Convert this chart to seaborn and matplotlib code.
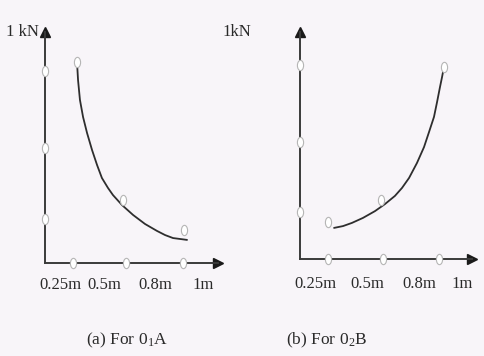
import numpy as np
import pandas as pd
import matplotlib
matplotlib.use("Agg")
import matplotlib.pyplot as plt
import matplotlib.path as mpath
from matplotlib.transforms import Affine2D
import seaborn as sns

# schematic data, axis units are fractions of the arrow length
# (a) curve for 0_1A (falls with distance)
a_curve_x = [0.185, 0.191, 0.202, 0.220, 0.243, 0.272, 0.301, 0.329, 0.364, 0.393,
             0.445, 0.509, 0.578, 0.647, 0.694, 0.740, 0.821]
a_curve_y = [0.870, 0.792, 0.706, 0.632, 0.563, 0.489, 0.424, 0.368, 0.325, 0.294,
             0.251, 0.208, 0.169, 0.139, 0.121, 0.108, 0.100]
a_pts_x = [0.185, 0.451, 0.803]
a_pts_y = [0.870, 0.273, 0.143]
a_xticks = [0.16, 0.47, 0.80]
a_yticks = [0.19, 0.50, 0.83]
a_label_x = [0.087, 0.34, 0.636, 0.913]

# (b) curve for 0_2B (rises with distance)
b_curve_x = [0.198, 0.250, 0.302, 0.366, 0.436, 0.494, 0.552, 0.593, 0.634, 0.680,
             0.721, 0.750, 0.779, 0.797, 0.814, 0.826, 0.837]
b_curve_y = [0.137, 0.145, 0.159, 0.181, 0.211, 0.242, 0.278, 0.313, 0.357, 0.423,
             0.493, 0.559, 0.626, 0.692, 0.758, 0.802, 0.846]
b_pts_x = [0.163, 0.471, 0.837]
b_pts_y = [0.163, 0.260, 0.846]
b_xticks = [0.163, 0.483, 0.808]
b_yticks = [0.207, 0.515, 0.855]
b_label_x = [0.087, 0.39, 0.692, 0.942]

dist_labels = ['0.25m', '0.5m', '0.8m', '1m']

sns.set_style('white')
plt.rcParams['font.family'] = ['Liberation Serif', 'DejaVu Serif']
plt.rcParams['mathtext.fontset'] = 'stix'

bg = '#f8f5f9'
fig = plt.figure(figsize=(4.84, 3.56), dpi=100, facecolor=bg)

# tall, narrow hollow marker like the scan
ring = mpath.Path.unit_circle().transformed(Affine2D().scale(0.6, 1.0))


def panel(rect, cx, cy, px, py, xt, yt, lx, label_y, ytxt, ytxt_x, caption, cap_x, cap_y):
    ax = fig.add_axes(rect)
    ax.set_facecolor('none')
    ax.set_xlim(0, 1)
    ax.set_ylim(0, 1)
    for s in ['top', 'right']:
        ax.spines[s].set_visible(False)
    for s in ['left', 'bottom']:
        ax.spines[s].set_color('#3a3a3a')
        ax.spines[s].set_linewidth(1.4)
    ax.set_xticks([])
    ax.set_yticks([])
    # arrow heads
    ax.plot(1, 0, '>', color='#1a1a1a', ms=7, transform=ax.get_yaxis_transform(), clip_on=False)
    ax.plot(0, 1, '^', color='#1a1a1a', ms=7, transform=ax.get_xaxis_transform(), clip_on=False)

    df = pd.DataFrame({'x': cx, 'y': cy})
    sns.lineplot(data=df, x='x', y='y', ax=ax, color='#2e2e2e', lw=1.3, sort=False)

    circ = dict(marker=ring, s=55, facecolor='white', edgecolor='#b5b5b5',
                linewidth=0.8, zorder=5, clip_on=False, ax=ax)
    sns.scatterplot(x=px, y=py, **circ)
    sns.scatterplot(x=xt, y=[0] * len(xt), **circ)
    sns.scatterplot(x=[0] * len(yt), y=yt, **circ)
    ax.set_xlabel('')
    ax.set_ylabel('')

    for x, t in zip(lx, dist_labels):
        ax.text(x, label_y, t, ha='center', va='center', fontsize=12, color='#2a2a2a')
    ax.text(ytxt_x, 1.0, ytxt, ha='center', va='center', fontsize=12, color='#2a2a2a')
    ax.text(cap_x, cap_y, caption, ha='center', va='center', fontsize=12.5, color='#2a2a2a')
    return ax


panel([45 / 484, 93 / 356, 173 / 484, 231 / 356], a_curve_x, a_curve_y, a_pts_x, a_pts_y,
      a_xticks, a_yticks, a_label_x, -0.095, '1 kN', -0.13, '(a) For 0$_\\mathregular{1}$A',
      0.474, -0.333)
panel([300 / 484, 97 / 356, 172 / 484, 227 / 356], b_curve_x, b_curve_y, b_pts_x, b_pts_y,
      b_xticks, b_yticks, b_label_x, -0.11, '1kN', -0.366, '(b) For 0$_\\mathregular{2}$B',
      0.157, -0.357)

fig.savefig('out.png', dpi=100, facecolor=bg)
